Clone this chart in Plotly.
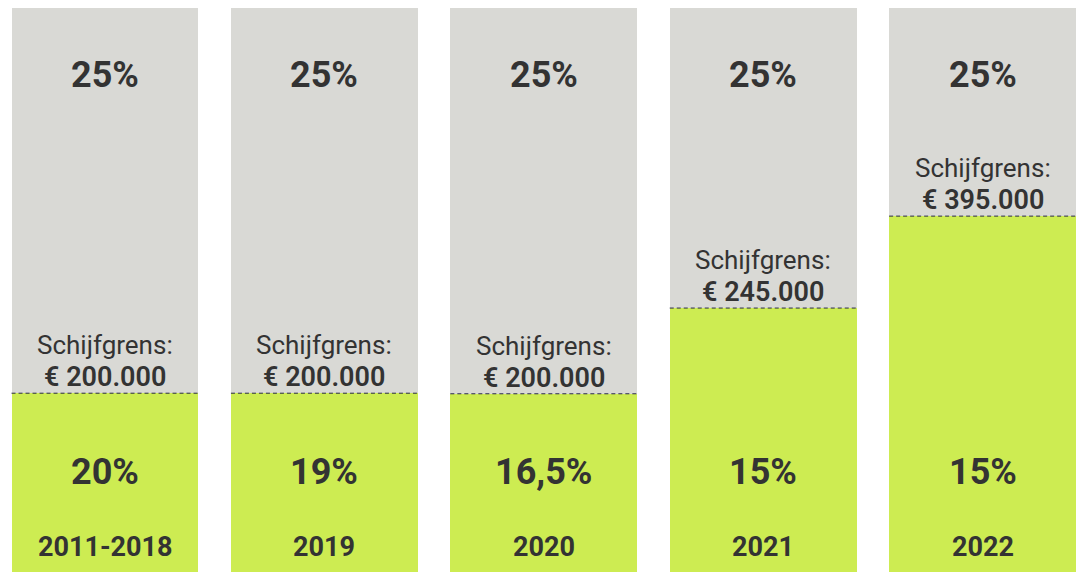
import plotly.graph_objects as go

periods = ["2011-2018", "2019", "2020", "2021", "2022"]
low_rates = ["20%", "19%", "16,5%", "15%", "15%"]
high_rates = ["25%", "25%", "25%", "25%", "25%"]
thresholds = ["€ 200.000", "€ 200.000", "€ 200.000", "€ 245.000", "€ 395.000"]
green_share = [31.7, 31.7, 31.6, 46.8, 63.1]
total = 100
grey_share = [total - g for g in green_share]

GREEN = "#cdec52"
GREY = "#d9d9d5"
TEXT = "#333333"
FONT = "Roboto"

fig = go.Figure()
fig.add_trace(go.Bar(x=periods, y=green_share, marker=dict(color=GREEN, line=dict(width=0)),
                     hoverinfo="skip"))
fig.add_trace(go.Bar(x=periods, y=grey_share, marker=dict(color=GREY, line=dict(width=0)),
                     hoverinfo="skip"))

plot_h = 564
def py(pix_from_top):
    return (572 - pix_from_top) / plot_h

annotations = []
shapes = []
half = 0.426
for i, p in enumerate(periods):
    annotations.append(dict(x=i, y=py(75), xref="x", yref="paper", text=high_rates[i],
                            showarrow=False, yanchor="middle",
                            font=dict(family=FONT, size=36, color=TEXT, weight=700)))
    annotations.append(dict(x=i, y=py(472), xref="x", yref="paper", text=low_rates[i],
                            showarrow=False, yanchor="middle",
                            font=dict(family=FONT, size=36, color=TEXT, weight=700)))
    annotations.append(dict(x=i, y=py(547), xref="x", yref="paper", text=p,
                            showarrow=False, yanchor="middle",
                            font=dict(family=FONT, size=27, color=TEXT, weight=700)))
    annotations.append(dict(x=i, y=green_share[i], xref="x", yref="y", text="Schijfgrens:",
                            showarrow=False, yanchor="middle", yshift=48,
                            font=dict(family=FONT, size=26, color=TEXT, weight=400)))
    annotations.append(dict(x=i, y=green_share[i], xref="x", yref="y", text=thresholds[i],
                            showarrow=False, yanchor="middle", yshift=16,
                            font=dict(family=FONT, size=27, color=TEXT, weight=600)))
    shapes.append(dict(type="line", xref="x", yref="y", x0=i - half, x1=i + half,
                       y0=green_share[i], y1=green_share[i],
                       line=dict(color="#2a2a48", width=1, dash="4px,3px")))

fig.update_layout(
    barmode="stack",
    bargap=0.148,
    width=1085, height=581,
    margin=dict(l=0, r=0, t=8, b=9),
    paper_bgcolor="white", plot_bgcolor="white",
    showlegend=False,
    xaxis=dict(type="category", range=[-0.4786, 4.4667], showticklabels=False,
               showgrid=False, zeroline=False, showline=False),
    yaxis=dict(range=[0, total], showticklabels=False, showgrid=False, zeroline=False,
               showline=False),
    annotations=annotations,
    shapes=shapes,
)
fig.write_html("out.html", config={"displayModeBar": False})
